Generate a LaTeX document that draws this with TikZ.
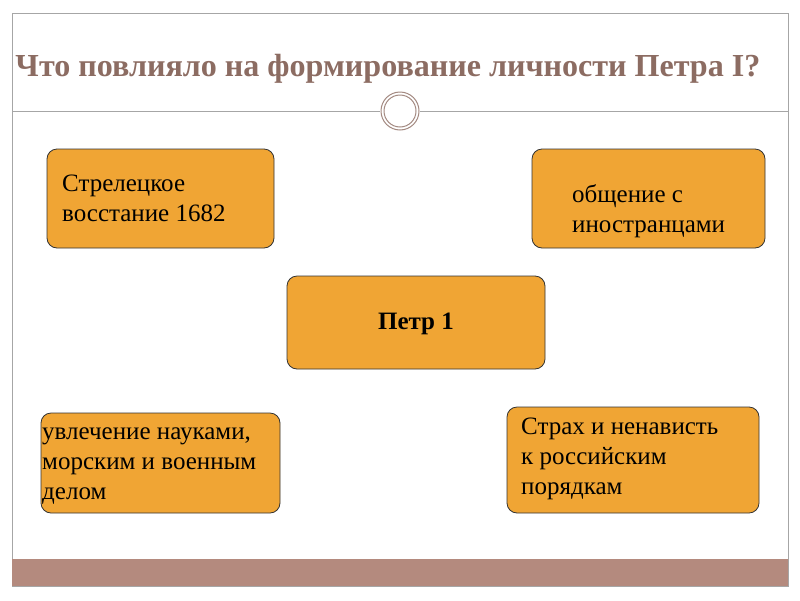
\documentclass[tikz,border=0pt]{standalone}
\usepackage{fontspec}
\setmainfont{Liberation Serif}
\definecolor{org}{RGB}{240,165,52}
\definecolor{tit}{RGB}{140,108,98}
\definecolor{band}{RGB}{180,138,126}
\begin{document}
\begin{tikzpicture}[x=1pt,y=-1pt,
 bx/.style={draw=black!80,fill=org,rounded corners=10pt,line width=0.8pt},
 tx/.style={font=\fontsize{25}{30}\selectfont,align=left,anchor=west,inner sep=0pt}]
\useasboundingbox (0,0) rectangle (800,600);
\fill[white] (0,0) rectangle (800,600);
\draw[gray!70,line width=0.8pt] (12,13) rectangle (788,586);
\fill[band] (12,559) rectangle (788,586);
\draw[gray!70,line width=0.8pt] (12,111) -- (380,111) (420,111) -- (788,111);
\node[circle,draw=tit!80,line width=1pt,minimum size=38pt,inner sep=0pt] (c1) at (400,111) {};
\node[circle,draw=tit!80,line width=1pt,minimum size=32pt,inner sep=0pt] (c2) at (400,111) {};
\node[text=tit,inner sep=0pt] (t) at (388,69) {\resizebox{745pt}{!}{\fontsize{30}{34}\selectfont\bfseries Что повлияло на формирование личности Петра I?}};
\draw[bx] (47,149) rectangle (274,248);
\node[tx] (a) at (62,198) {Стрелецкое\\восстание 1682};
\draw[bx] (532,149) rectangle (765,248);
\node[tx] (b) at (572,211) {общение с\\иностранцами};
\draw[bx] (287,276) rectangle (545,369);
\node[font=\fontsize{25}{30}\selectfont\bfseries,inner sep=0pt] (p) at (416,324) {Петр 1};
\draw[bx] (41,413) rectangle (280,513);
\node[tx] (c) at (42,466) {увлечение науками,\\морским и военным\\делом};
\draw[bx] (507,407) rectangle (759,513);
\node[tx] (d) at (521,459) {Страх и ненависть\\к российским\\порядкам};
\end{tikzpicture}
\end{document}
